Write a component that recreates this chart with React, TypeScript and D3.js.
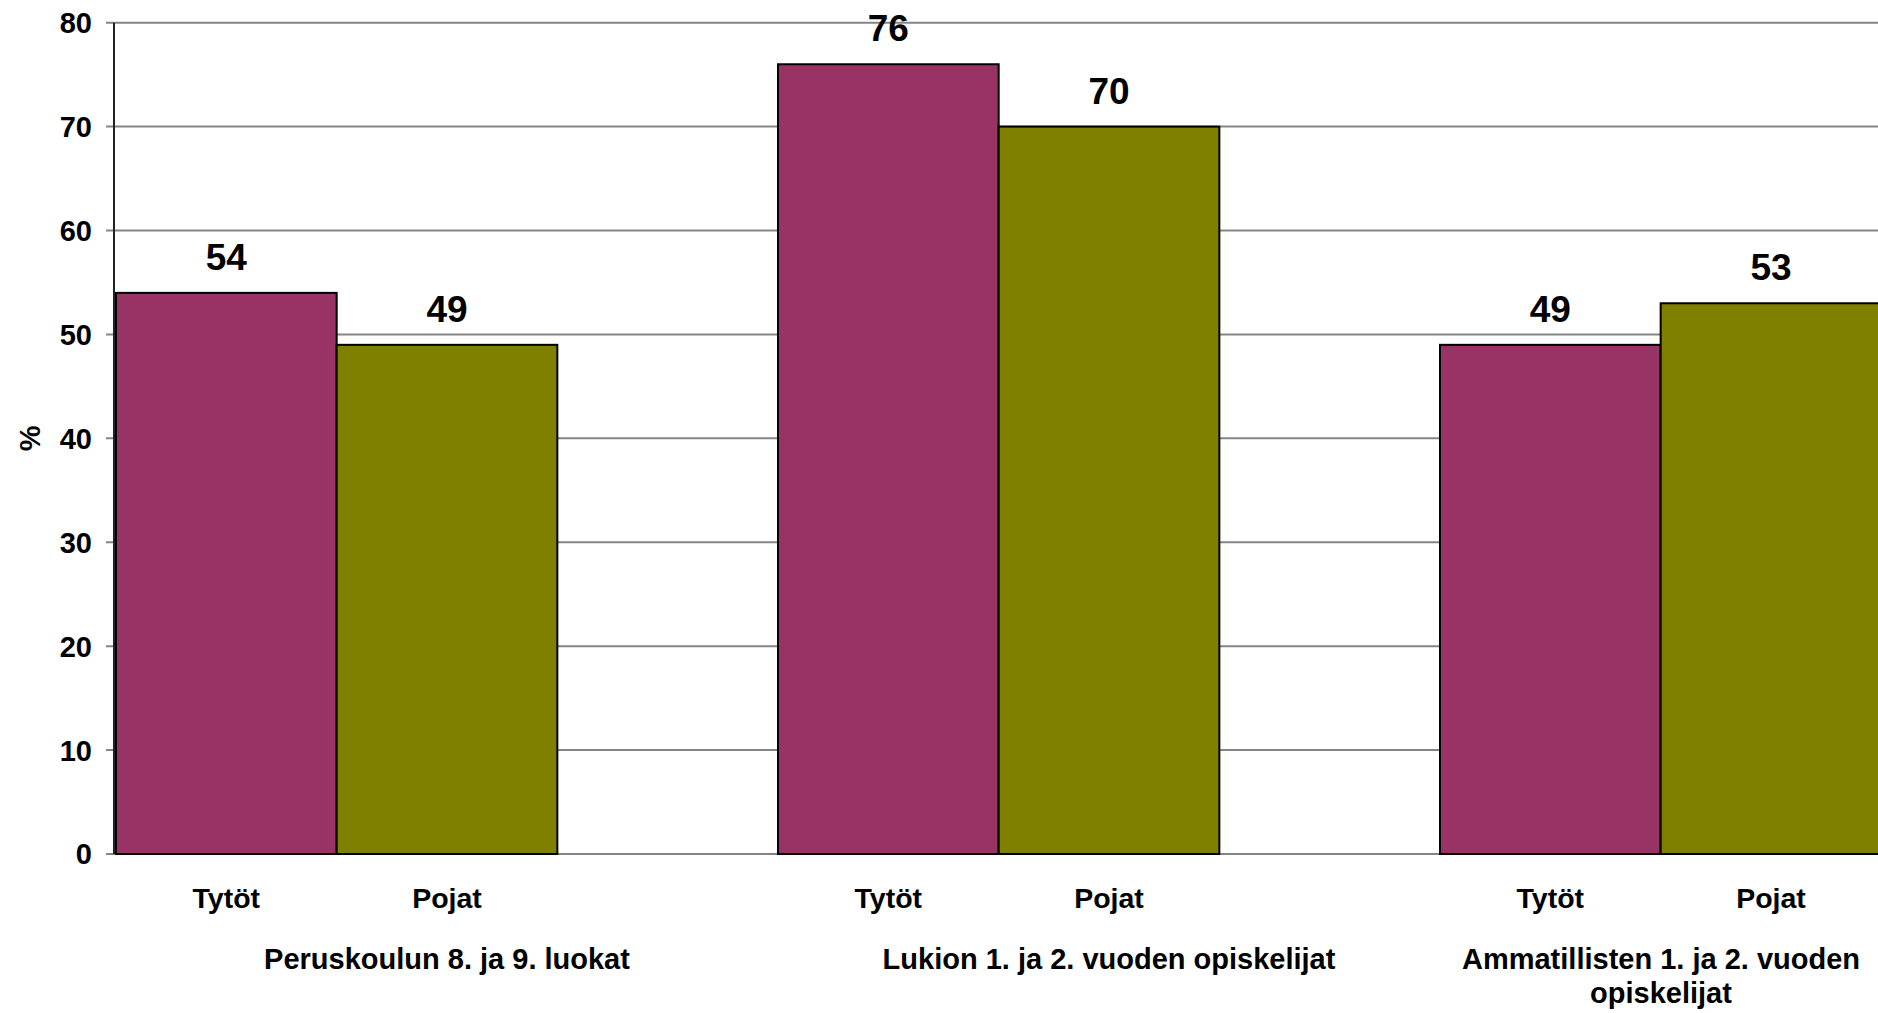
import * as d3 from 'd3';
import React from 'react';

// data
const groups = [
  'Peruskoulun 8. ja 9. luokat',
  'Lukion 1. ja 2. vuoden opiskelijat',
  'Ammatillisten 1. ja 2. vuoden\nopiskelijat',
];
const seriesNames = ['Tytöt', 'Pojat'];
const tytot = [54, 76, 49];
const pojat = [49, 70, 53];
const yTicks = [0, 10, 20, 30, 40, 50, 60, 70, 80];
const colors = ['#993366', '#808000'];

const width = 1878;
const height = 1013;
const font = '"Liberation Sans", Arial, sans-serif';

export default function App() {
  const left = 114;
  const top = 22.7;
  const bottom = 854;
  // plot runs past the right edge of the picture (chart is cropped)
  const plotStart = left + 2;
  const plotRight = plotStart + 3 * 662;

  const y = d3.scaleLinear().domain([0, 80]).range([bottom, top]);
  const x = d3.scaleBand().domain(groups).range([plotStart, plotRight]);
  // third slot left empty, like the original spreadsheet chart
  const inner = d3
    .scaleBand()
    .domain([...seriesNames, ''])
    .range([0, x.bandwidth()]);

  const values = [tytot, pojat];

  return (
    <svg
      width={width}
      height={height}
      style={{ position: 'absolute', left: 0, top: 0, background: '#fff' }}
      fontFamily={font}
      fontWeight="bold"
    >
      {/* gridlines + ticks */}
      {yTicks.map(t => (
        <g key={t}>
          <line
            x1={left - 8}
            x2={width}
            y1={y(t)}
            y2={y(t)}
            stroke="#858585"
            strokeWidth={2}
          />
          <text
            x={92}
            y={y(t)}
            dy="0.36em"
            textAnchor="end"
            fontSize={29}
          >
            {t}
          </text>
        </g>
      ))}

      {/* y axis */}
      <line x1={left} x2={left} y1={top} y2={bottom} stroke="#222" strokeWidth={2} />
      <text
        transform={`translate(30,${(top + bottom) / 2}) rotate(-90)`}
        textAnchor="middle"
        dy="0.36em"
        fontSize={29}
      >
        %
      </text>

      {/* bars */}
      {groups.map((g, gi) =>
        seriesNames.map((s, si) => {
          const v = values[si][gi];
          const bx = (x(g) ?? 0) + (inner(s) ?? 0);
          const bw = inner.bandwidth();
          return (
            <g key={g + s}>
              <rect
                x={bx}
                y={y(v)}
                width={bw}
                height={y(0) - y(v)}
                fill={colors[si]}
                stroke="#000"
                strokeWidth={2}
              />
              <text
                x={bx + bw / 2}
                y={y(v) - 23}
                textAnchor="middle"
                fontSize={37}
              >
                {v}
              </text>
              <text
                x={bx + bw / 2}
                y={908}
                textAnchor="middle"
                fontSize={28.5}
              >
                {s}
              </text>
            </g>
          );
        })
      )}

      {/* group labels */}
      {groups.map(g => {
        const cx = Math.min((x(g) ?? 0) + x.bandwidth() / 2, width - 217);
        return (
          <text key={g} x={cx} y={969} textAnchor="middle" fontSize={29}>
            {g.split('\n').map((line, i) => (
              <tspan key={i} x={cx} dy={i === 0 ? 0 : 34}>
                {line}
              </tspan>
            ))}
          </text>
        );
      })}
    </svg>
  );
}
